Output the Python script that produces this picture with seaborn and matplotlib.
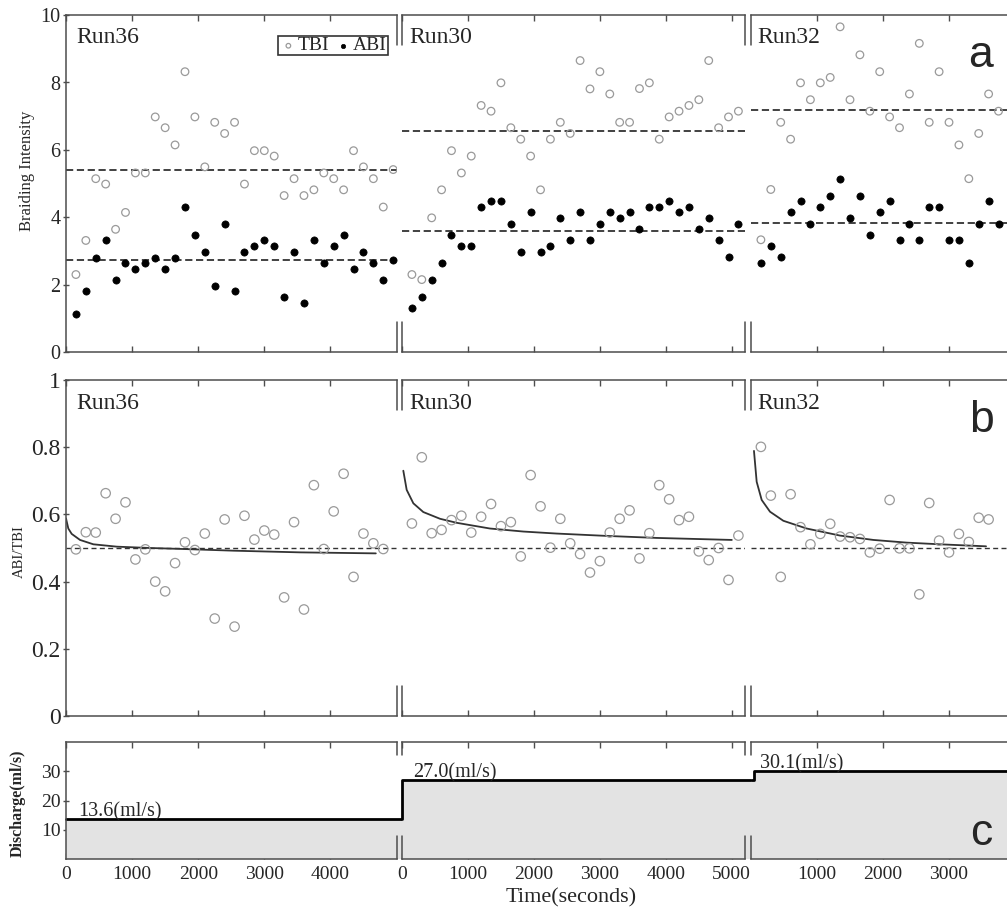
import numpy as np
import seaborn as sns
import matplotlib.pyplot as plt

# photos were taken every 150 s in each run
DT = 150
runs = ["Run36", "Run30", "Run32"]

# (a) braiding intensity
tbi_36 = [2.31, 3.32, 5.15, 4.99, 3.65, 4.15, 5.32, 5.32, 6.98, 6.66, 6.15, 8.32, 6.98,
          5.50, 6.82, 6.49, 6.82, 4.99, 5.98, 5.98, 5.82, 4.65, 5.15, 4.65, 4.82, 5.32,
          5.15, 4.82, 5.98, 5.50, 5.15, 4.31, 5.42]
abi_36 = [1.15, 1.82, 2.81, 3.32, 2.16, 2.65, 2.48, 2.65, 2.81, 2.48, 2.81, 4.31, 3.48,
          2.99, 1.98, 3.82, 1.82, 2.99, 3.16, 3.32, 3.16, 1.65, 2.99, 1.48, 3.32, 2.65,
          3.16, 3.48, 2.48, 2.99, 2.65, 2.16, 2.73]
tbi_30 = [2.31, 2.16, 3.99, 4.82, 5.98, 5.32, 5.82, 7.32, 7.15, 7.99, 6.66, 6.32, 5.82,
          4.82, 6.32, 6.82, 6.49, 8.65, 7.81, 8.32, 7.66, 6.82, 6.82, 7.82, 7.99, 6.32,
          6.98, 7.15, 7.32, 7.49, 8.65, 6.66, 6.98, 7.15]
abi_30 = [1.32, 1.65, 2.16, 2.65, 3.48, 3.16, 3.16, 4.31, 4.48, 4.48, 3.82, 2.99, 4.15,
          2.99, 3.16, 3.99, 3.32, 4.15, 3.32, 3.82, 4.15, 3.99, 4.15, 3.65, 4.31, 4.31,
          4.48, 4.15, 4.31, 3.65, 3.99, 3.32, 2.82, 3.82]
tbi_32 = [3.34, 4.83, 6.82, 6.32, 7.99, 7.49, 7.99, 8.15, 9.65, 7.49, 8.82, 7.15, 8.32,
          6.98, 6.66, 7.66, 9.16, 6.82, 8.32, 6.82, 6.15, 5.15, 6.49, 7.66, 7.15]
abi_32 = [2.65, 3.16, 2.82, 4.15, 4.48, 3.82, 4.31, 4.65, 5.15, 3.99, 4.65, 3.48, 4.15,
          4.48, 3.32, 3.82, 3.32, 4.31, 4.31, 3.32, 3.32, 2.65, 3.82, 4.48, 3.82]
tbi_mean = [5.42, 6.56, 7.18]
abi_mean = [2.73, 3.59, 3.85]

# (b) ABI/TBI ratio and fitted curve
ratio_36 = [0.496, 0.547, 0.546, 0.663, 0.587, 0.636, 0.466, 0.496, 0.400, 0.371, 0.455,
            0.517, 0.494, 0.543, 0.290, 0.585, 0.266, 0.596, 0.525, 0.552, 0.540, 0.353,
            0.577, 0.317, 0.687, 0.497, 0.609, 0.721, 0.414, 0.543, 0.514, 0.497]
ratio_30 = [0.573, 0.770, 0.544, 0.554, 0.583, 0.596, 0.546, 0.593, 0.631, 0.565, 0.577,
            0.475, 0.717, 0.624, 0.501, 0.587, 0.514, 0.482, 0.427, 0.461, 0.546, 0.587,
            0.612, 0.469, 0.544, 0.687, 0.645, 0.583, 0.593, 0.490, 0.464, 0.500, 0.405,
            0.537]
ratio_32 = [0.801, 0.656, 0.414, 0.660, 0.562, 0.511, 0.542, 0.572, 0.534, 0.532, 0.527,
            0.487, 0.498, 0.643, 0.499, 0.499, 0.362, 0.634, 0.522, 0.487, 0.542, 0.518,
            0.590, 0.585]
fit_t_36 = [0, 35, 86, 212, 414, 768, 1273, 1778, 2535, 3545, 4687]
fit_36 = [0.588, 0.558, 0.542, 0.524, 0.511, 0.504, 0.500, 0.497, 0.492, 0.487, 0.484]
fit_t_30 = [20, 71, 172, 323, 576, 828, 1333, 1838, 2343, 3101, 3859, 5000]
fit_30 = [0.730, 0.673, 0.633, 0.607, 0.587, 0.575, 0.558, 0.549, 0.543, 0.536, 0.530, 0.524]
fit_t_32 = [45, 86, 162, 288, 490, 843, 1348, 1854, 2359, 2864, 3561]
fit_32 = [0.789, 0.697, 0.643, 0.608, 0.581, 0.558, 0.537, 0.524, 0.516, 0.511, 0.505]
ratio_ref = 0.5

# (c) discharge, each run holds its flow until the next one starts
q_time_36 = [0, 5080]
q_36 = [13.6, 13.6]
q_time_30 = [0, 0, 5290]
q_30 = [13.6, 27.0, 27.0]
q_time_32 = [0, 50, 50, 4300]
q_32 = [27.0, 27.0, 30.1, 30.1]
q_labels = ["13.6(ml/s)", "27.0(ml/s)", "30.1(ml/s)"]

tbi = [tbi_36, tbi_30, tbi_32]
abi = [abi_36, abi_30, abi_32]
ratio = [ratio_36, ratio_30, ratio_32]
fit_t = [fit_t_36, fit_t_30, fit_t_32]
fit = [fit_36, fit_30, fit_32]
q_time = [q_time_36, q_time_30, q_time_32]
q = [q_36, q_30, q_32]

sns.set_style("ticks")
plt.rcParams["font.family"] = ["Liberation Serif", "DejaVu Serif"]

W, H = 1007, 917
SPINE = "#4d4d4d"
fig = plt.figure(figsize=(W / 100, H / 100), dpi=100)

# pixel layout: (left, right, xmax) per run, (top, bottom) per row
cols = [(66, 396.5, 5000), (402, 745, 5200), (751, 1030, 4227)]
rows = [(15, 352.5), (380, 716), (742, 859)]
stub = [(0.09, 0.09), (0.09, 0.09), (0.2, 0.11)]
xticks = [[0, 1000, 2000, 3000, 4000], [0, 1000, 2000, 3000, 4000, 5000], [1000, 2000, 3000]]


def make_axes(r, c):
    x0, x1, xmax = cols[c]
    y0, y1 = rows[r]
    ax = fig.add_axes([x0 / W, 1 - y1 / H, (x1 - x0) / W, (y1 - y0) / H])
    ax.set_xlim(0, xmax)
    for side in ["top", "bottom", "left", "right"]:
        ax.spines[side].set_color(SPINE)
        ax.spines[side].set_linewidth(1.1)
    ax.spines["right"].set_visible(False)
    lo, hi = stub[r]
    if c > 0:
        ax.spines["left"].set_visible(False)
        for a, b in [(0, lo), (1 - hi, 1)]:
            ax.axvline(0, a, b, color=SPINE, lw=1.1, clip_on=False, zorder=3)
    if c < 2:
        for a, b in [(0, lo), (1 - hi, 1)]:
            ax.axvline(xmax, a, b, color=SPINE, lw=1.1, clip_on=False, zorder=3)
    ax.set_xticks(xticks[c])
    ax.tick_params(axis="x", direction="in", top=True, length=4, width=1, color=SPINE,
                   labelbottom=(r == 2), labelsize=14, pad=5)
    if c == 0:
        ax.tick_params(axis="y", direction="inout", length=4, width=1, color=SPINE, pad=2)
    else:
        ax.tick_params(axis="y", left=False, labelleft=False)
    return ax


for c, run in enumerate(runs):
    t = np.arange(1, len(tbi[c]) + 1) * DT
    run_x = 10 / (cols[c][1] - cols[c][0]) if c == 0 else 0.022

    # row a
    ax = make_axes(0, c)
    ax.axhline(tbi_mean[c], color="#333333", lw=1.3, dashes=(4, 2))
    ax.axhline(abi_mean[c], color="#333333", lw=1.3, dashes=(4, 2))
    sns.scatterplot(x=t, y=tbi[c], ax=ax, s=30, facecolors="none", edgecolor="#9a9a9a",
                    linewidth=0.9, label="TBI", zorder=3)
    sns.scatterplot(x=t, y=abi[c], ax=ax, s=27, color="black", edgecolor="black",
                    linewidth=0.5, label="ABI", zorder=3)
    ax.set_ylim(0, 10)
    ax.set_yticks([0, 2, 4, 6, 8, 10])
    ax.tick_params(axis="y", labelsize=14.5)
    ax.set_xlabel("")
    ax.set_ylabel("")
    ax.text(run_x, 0.965, run, transform=ax.transAxes, va="top", ha="left", fontsize=17)
    if c == 0:
        leg = ax.legend(loc="upper right", bbox_to_anchor=(0.974, 0.938), ncol=2,
                        frameon=True, fancybox=False, framealpha=1, edgecolor="#333333",
                        fontsize=14, markerscale=0.6, borderpad=0.05, borderaxespad=0,
                        handletextpad=0.0, columnspacing=0.2, handlelength=1.0,
                        handleheight=0.5)
        leg.get_frame().set_linewidth(1.2)
    else:
        ax.get_legend().remove()

    # row b
    ax = make_axes(1, c)
    tr = np.arange(1, len(ratio[c]) + 1) * DT
    ax.axhline(ratio_ref, color="#333333", lw=1.0, dashes=(3.6, 2.4))
    sns.lineplot(x=fit_t[c], y=fit[c], ax=ax, color="#333333", lw=1.3)
    sns.scatterplot(x=tr, y=ratio[c], ax=ax, s=46, facecolors="none", edgecolor="#9a9a9a",
                    linewidth=0.9, zorder=3)
    ax.set_ylim(0, 1)
    ax.set_yticks([0, 0.2, 0.4, 0.6, 0.8, 1.0])
    ax.set_yticklabels(["0", "0.2", "0.4", "0.6", "0.8", "1"])
    ax.tick_params(axis="y", labelsize=17)
    ax.set_xlabel("")
    ax.set_ylabel("")
    ax.text(run_x, 0.962, run, transform=ax.transAxes, va="top", ha="left", fontsize=17)

    # row c
    ax = make_axes(2, c)
    clip = c == 2
    ax.fill_between(q_time[c], 0, q[c], color="#e3e3e3", lw=0, clip_on=clip, zorder=1)
    sns.lineplot(x=q_time[c], y=q[c], ax=ax, color="black", lw=2.0, estimator=None,
                 sort=False, clip_on=clip, zorder=2)
    ax.set_ylim(0, 40)
    ax.set_yticks([10, 20, 30])
    ax.tick_params(axis="y", labelsize=14)
    ax.set_xlabel("")
    ax.set_ylabel("")
    ax.text([180, 167, 136][c], q[c][-1] + 0.9, q_labels[c], fontsize=14.5,
            ha="left", va="baseline")

fig.text(27 / W, 1 - 171 / H, "Braiding Intensity", rotation=90, ha="center",
         va="center", fontsize=12)
fig.text(19 / W, 1 - 552 / H, "ABI/TBI", rotation=90, ha="center", va="center",
         fontsize=10.5)
fig.text(18 / W, 1 - 803 / H, "Discharge(ml/s)", rotation=90, ha="center", va="center",
         fontsize=11.5, fontweight="bold")
fig.text(571 / W, 1 - 898 / H, "Time(seconds)", ha="center", va="center", fontsize=16)

for letter, yb in [("a", 67), ("b", 432), ("c", 845)]:
    fig.text(981 / W, 1 - yb / H, letter, ha="center", va="baseline", fontsize=32,
             family=["Liberation Sans", "DejaVu Sans"])

fig.savefig("out.png", dpi=100)
